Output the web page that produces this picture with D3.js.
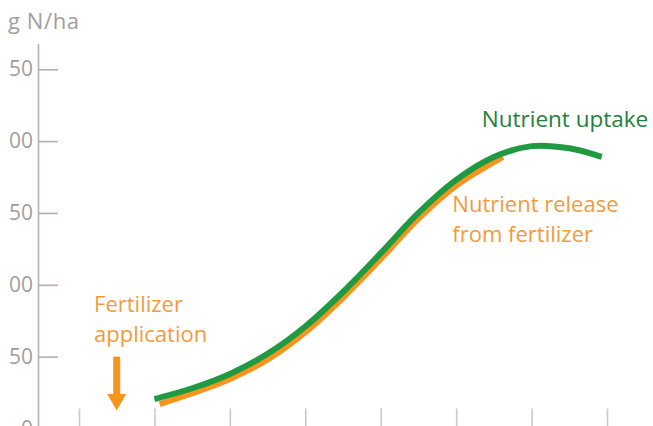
<!DOCTYPE html>
<meta charset="utf-8">
<head>
<script src="https://cdn.jsdelivr.net/npm/d3@7"></script>
<style>
body { margin: 0; background: #fff; }
text { font-family: "Open Sans", sans-serif; }
</style>
</head>
<body>
<svg id="chart"></svg>
<script>
// values (x in weeks-ish units, y in kg N/ha)
var uptakeX = [2, 2.5, 3, 3.5, 4, 4.5, 5, 5.5, 6, 6.5, 7, 7.5, 7.93];
var uptakeY = [20.5, 28, 38, 52, 71, 95, 122, 150, 173, 189, 196.5, 195, 189];
var releaseX = [2.07, 2.5, 3, 3.5, 4, 4.5, 5, 5.5, 6, 6.62];
var releaseY = [17, 24.5, 34.5, 48, 67, 91, 118, 146, 169, 189];
var yTicks = [0, 50, 100, 150, 200, 250];
var yTickLabels = ["0", "50", "00", "50", "00", "50"];
var xTicks = [1, 2, 3, 4, 5, 6, 7, 8];
var applicationX = 1.5;

var width = 653;
var height = 426;
var svg = d3.select("#chart").attr("width", width).attr("height", height);

var x = d3.scaleLinear().domain([1, 8]).range([79, 607]);
var y = d3.scaleLinear().domain([0, 268]).range([428.5, 43.4]);

var green = "#1f9a42";
var orange = "#f7941d";
var grey = "#a39d9d";

// y axis
var yAxis = d3.axisLeft(y)
    .tickValues(yTicks)
    .tickSizeInner(-20)
    .tickSizeOuter(0)
    .tickPadding(5)
    .tickFormat(function(d, i) { return yTickLabels[i]; });
var gy = svg.append("g").attr("transform", "translate(38,0)").call(yAxis);
gy.selectAll("path, line").attr("stroke", "#b5afaf").attr("stroke-width", 1.6);
gy.selectAll("text")
  .attr("fill", grey)
  .style("font-size", "21px")
  .style("font-family", "'Open Sans', sans-serif");

svg.append("text")
  .attr("x", 8).attr("y", 29)
  .attr("fill", grey)
  .style("font-size", "22px")
  .style("letter-spacing", "0.6px")
  .text("g N/ha");

// x axis (ticks only)
var xAxis = d3.axisTop(x).tickValues(xTicks).tickSize(20).tickFormat("");
var gx = svg.append("g").attr("transform", "translate(0," + y(0) + ")").call(xAxis);
gx.select(".domain").remove();
gx.selectAll("line").attr("stroke", "#cfc6c6").attr("stroke-width", 1.6);

var line = d3.line().curve(d3.curveCatmullRom.alpha(0.5));

svg.append("path")
  .attr("d", line(releaseX.map(function(d, i) { return [x(d), y(releaseY[i])]; })))
  .attr("fill", "none")
  .attr("stroke", orange)
  .attr("stroke-width", 6);

svg.append("path")
  .attr("d", line(uptakeX.map(function(d, i) { return [x(d), y(uptakeY[i])]; })))
  .attr("fill", "none")
  .attr("stroke", green)
  .attr("stroke-width", 6);

// fertilizer arrow
var ax = x(applicationX);
svg.append("line")
  .attr("x1", ax).attr("x2", ax)
  .attr("y1", y(50)).attr("y2", y(24))
  .attr("stroke", orange).attr("stroke-width", 7);
svg.append("path")
  .attr("d", "M" + (ax - 9.5) + "," + y(24) + "L" + (ax + 9.5) + "," + y(24) + "L" + ax + "," + y(12.5) + "Z")
  .attr("fill", orange);

var labelOrange = "#f39b3c";
svg.append("text").attr("x", x(1.2)).attr("y", y(81))
  .attr("fill", labelOrange).style("font-size", "22px").text("Fertilizer");
svg.append("text").attr("x", x(1.2)).attr("y", y(60))
  .attr("fill", labelOrange).style("font-size", "22px").text("application");

svg.append("text").attr("x", x(6.34)).attr("y", y(210))
  .attr("fill", "#23803c").style("font-size", "22.5px").text("Nutrient uptake");
svg.append("text").attr("x", x(5.95)).attr("y", y(150.6))
  .attr("fill", labelOrange).style("font-size", "22px").text("Nutrient release");
svg.append("text").attr("x", x(5.95)).attr("y", y(130))
  .attr("fill", labelOrange).style("font-size", "22px").text("from fertilizer");
</script>
</body>
